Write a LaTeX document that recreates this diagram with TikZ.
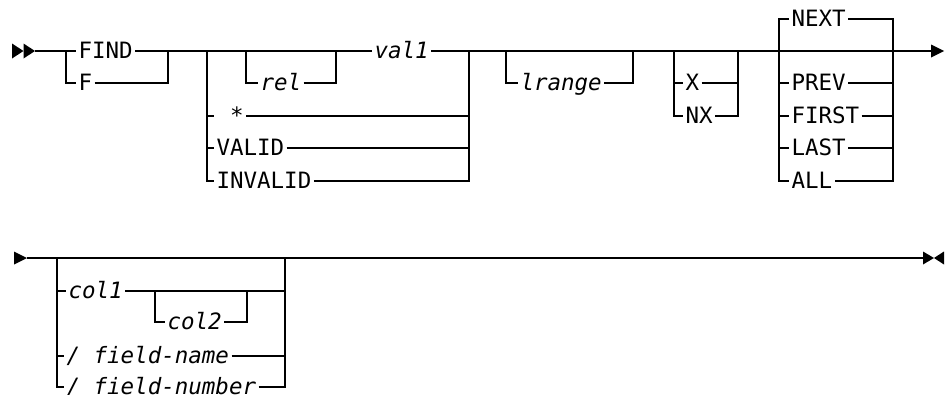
\documentclass[tikz,border=0pt]{standalone}
\usepackage{fontspec}
\newfontfamily\dvm{DejaVu Sans Mono}
\begin{document}
\begin{tikzpicture}[x=1pt,y=-1pt,line width=2pt,line join=miter,
  lbl/.style={font=\dvm\fontsize{22.5}{26}\selectfont, text height=16pt, text depth=1pt, inner xsep=1.5pt, inner ysep=0pt, anchor=west},
  ilbl/.style={lbl, font=\dvm\itshape\fontsize{22.5}{26}\selectfont},
  tip/.style={fill=black, draw=none}]
\useasboundingbox (0,0) rectangle (948,394);
% ---------- row 1 ----------
\coordinate (s1) at (35,51);
\coordinate (e1) at (931,51);
\fill[tip] (12,43.5) -- (23.5,51) -- (12,58.5) -- cycle;
\fill[tip] (23.5,43.5) -- (35,51) -- (23.5,58.5) -- cycle;
\fill[tip] (931,44.5) -- (944,51) -- (931,57.5) -- cycle;

\node[lbl] (find) at (76,51) {FIND};
\node[lbl] (f) at (76,83) {F};
\node[ilbl] (rel) at (258,83) {rel};
\node[ilbl] (val) at (372,51) {val1};
\node[lbl] (star) at (214,116) {\phantom{X}*};
\node[lbl] (valid) at (214,148) {VALID};
\node[lbl] (invalid) at (214,181) {INVALID};
\node[ilbl] (lrange) at (518,83) {lrange};
\node[lbl] (x) at (683,83) {X};
\node[lbl] (nx) at (683,116) {NX};
\node[lbl] (next) at (789,19) {NEXT};
\node[lbl] (prev) at (789,83) {PREV};
\node[lbl] (first) at (789,116) {FIRST};
\node[lbl] (last) at (789,148) {LAST};
\node[lbl] (all) at (789,181) {ALL};

% main line
\draw (s1) -- (find.west);
\draw (find.east) -- (val.west);
\draw (val.east) -- (e1);
% FIND / F
\draw (66,51) -- (66,83) -- (f.west);
\draw (f.east) -- (168,83) -- (168,51);
% rel
\draw (246,51) -- (246,83) -- (rel.west);
\draw (rel.east) -- (336,83) -- (336,51);
% big group
\draw (207,51) -- (207,181) -- (invalid.west);
\draw (207,116) -- (star.west);
\draw (207,148) -- (valid.west);
\draw (invalid.east) -- (469,181) -- (469,51);
\draw (valid.east) -- (469,148);
\draw (star.east) -- (469,116);
% lrange
\draw (506,51) -- (506,83) -- (lrange.west);
\draw (lrange.east) -- (633,83) -- (633,51);
% X / NX
\draw (674,51) -- (674,116) -- (nx.west);
\draw (674,83) -- (x.west);
\draw (nx.east) -- (738,116) -- (738,51);
\draw (x.east) -- (738,83);
% NEXT group
\draw (next.west) -- (779,19) -- (779,181) -- (all.west);
\draw (779,83) -- (prev.west);
\draw (779,116) -- (first.west);
\draw (779,148) -- (last.west);
\draw (next.east) -- (893,19) -- (893,181) -- (all.east);
\draw (prev.east) -- (893,83);
\draw (first.east) -- (893,116);
\draw (last.east) -- (893,148);

% ---------- row 2 ----------
\coordinate (s2) at (27,258);
\coordinate (e2) at (923,258);
\fill[tip] (14,251.5) -- (27,258) -- (14,264.5) -- cycle;
\fill[tip] (923,251.5) -- (934,258) -- (923,264.5) -- cycle;
\fill[tip] (944,251.5) -- (934,258) -- (944,264.5) -- cycle;

\node[ilbl] (col1) at (66,291) {col1};
\node[ilbl] (col2) at (165,322) {col2};
\node[ilbl] (fname) at (64,356) {/ field-name};
\node[ilbl] (fnum) at (64,387) {/ field-number};

\draw (s2) -- (e2);
\draw (57,258) -- (57,387) -- (fnum.west);
\draw (57,291) -- (col1.west);
\draw (57,356) -- (fname.west);
\draw (col1.east) -- (285,291);
\draw (155,291) -- (155,322) -- (col2.west);
\draw (col2.east) -- (247,322) -- (247,291);
\draw (fname.east) -- (285,356);
\draw (fnum.east) -- (285,387) -- (285,258);
\end{tikzpicture}
\end{document}
